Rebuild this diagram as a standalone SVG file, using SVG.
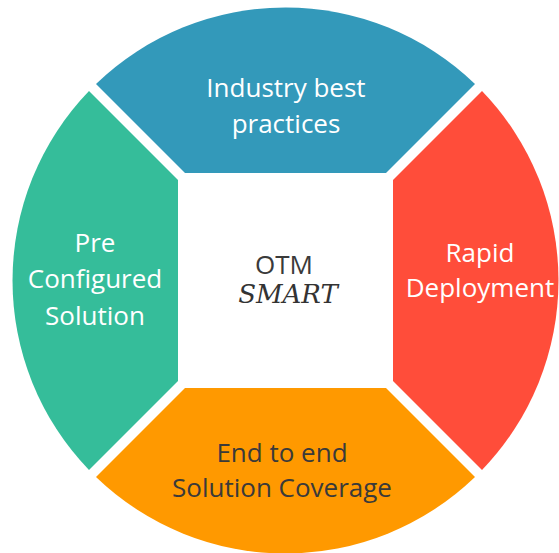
<svg xmlns="http://www.w3.org/2000/svg" width="559" height="553" viewBox="0 0 559 553">
<style>
.lbl{font-family:"Open Sans","Noto Sans","Liberation Sans",sans-serif;font-size:26px;text-anchor:middle}
.w{fill:#ffffff}
.d{fill:#3a3a3a}
.script{font-family:"DejaVu Serif","Liberation Serif",serif;font-style:italic;font-size:26px;text-anchor:middle;fill:#333333}
</style>
<rect width="559" height="553" fill="#ffffff"/>
<g id="industry">
<path d="M185 173 L96 84 A273 273 0 0 1 475 84 L386 173 Z" fill="#3399BA"/>
<text class="lbl w" x="286" y="97">Industry best</text>
<text class="lbl w" x="286" y="133">practices</text>
</g>
<g id="rapid">
<path d="M393 180 L482 91 A273 273 0 0 1 482 470 L393 381 Z" fill="#FF4D3A"/>
<text class="lbl w" x="480" y="262">Rapid</text>
<text class="lbl w" x="480" y="297">Deployment</text>
</g>
<g id="endtoend">
<path d="M386 388 L475 477 A273 273 0 0 1 96 477 L185 388 Z" fill="#FF9900"/>
<text class="lbl d" x="282" y="462">End to end</text>
<text class="lbl d" x="282" y="497">Solution Coverage</text>
</g>
<g id="preconfigured">
<path d="M178 381 L89 470 A273 273 0 0 1 89 91 L178 180 Z" fill="#35BD9A"/>
<text class="lbl w" x="95" y="252">Pre</text>
<text class="lbl w" x="95" y="288">Configured</text>
<text class="lbl w" x="95" y="325">Solution</text>
</g>
<g id="center">
<text class="lbl d" x="284" y="274">OTM</text>
<text class="script" x="288" y="303">SMART</text>
</g>
<g id="connectors"></g>
</svg>
